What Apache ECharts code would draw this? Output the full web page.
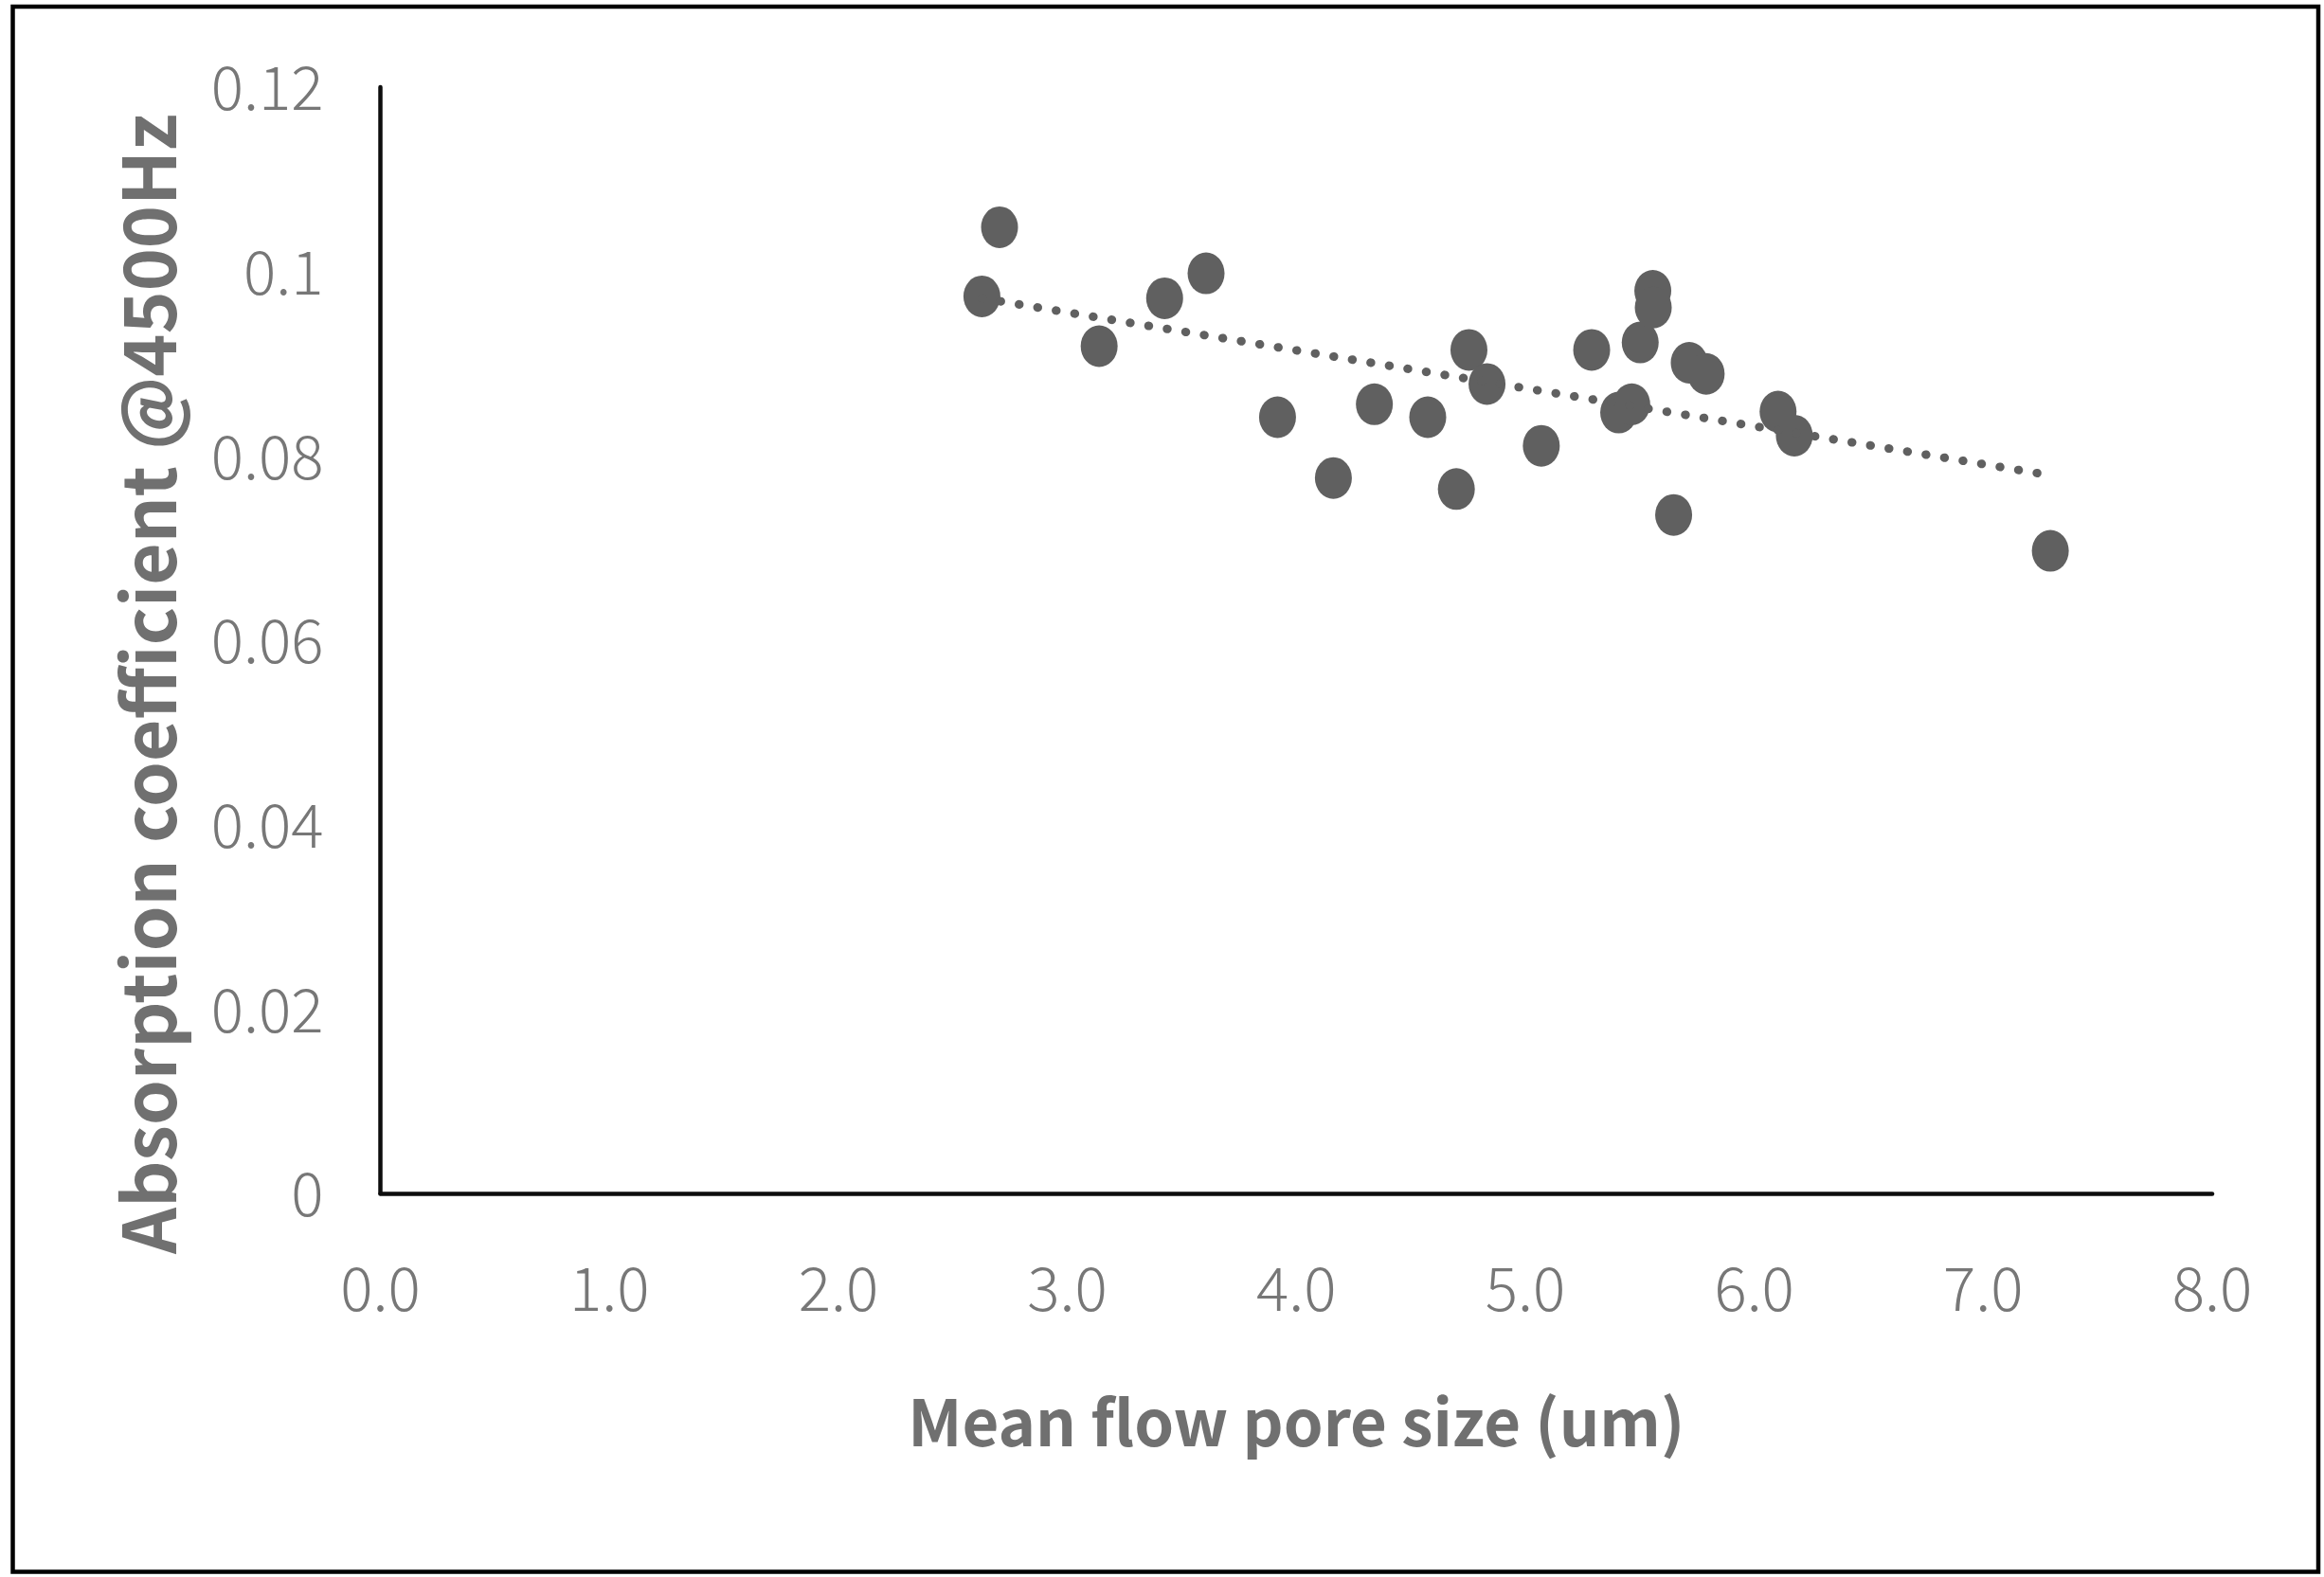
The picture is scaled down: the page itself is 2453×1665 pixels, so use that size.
<!DOCTYPE html>
<html>
<head>
<meta charset="utf-8">
<script src="https://cdn.jsdelivr.net/npm/echarts@6/dist/echarts.min.js"></script>
<style>
  html, body { margin: 0; padding: 0; background: #ffffff; }
  #chart { width: 2453px; height: 1665px; }
</style>
</head>
<body>
<div id="chart"></div>
<script>
// Mean flow pore size (um)
const poreSize = [2.704, 2.627, 3.425, 3.606, 3.139, 3.918, 4.162, 4.341, 4.574, 4.699,
                  4.754, 4.833, 5.070, 5.290, 5.408, 5.465, 5.502, 5.557, 5.559, 5.648,
                  5.716, 5.790, 6.104, 6.175, 7.293];
// Absorption coefficient @4500Hz
const absorption = [0.1048, 0.0973, 0.0971, 0.0998, 0.0919, 0.0842, 0.0776, 0.0856, 0.0842, 0.0764,
                    0.0915, 0.0878, 0.0811, 0.0915, 0.0847, 0.0856, 0.0923, 0.0979, 0.0961, 0.0736,
                    0.0901, 0.0889, 0.0848, 0.0822, 0.0697];
// Linear trendline end points
const trendX = [2.627, 7.293];
const trendY = [0.0971, 0.0779];

const xTicks = { min: 0, max: 8, interval: 1 };
const yTicks = { min: 0, max: 0.12, interval: 0.02 };

const xTitle = 'Mean flow pore size (um)';
const yTitle = 'Absorption coefficient @4500Hz';

const scatterData = poreSize.map((x, i) => [x, absorption[i]]);
const trendData = trendX.map((x, i) => [x, trendY[i]]);

const markColor = '#606060';
const tickColor = '#777777';
const titleColor = '#707070';
const tickFont = "'Noto Sans CJK KR', 'Noto Sans', sans-serif";

const chart = echarts.init(document.getElementById('chart'), null, { renderer: 'canvas' });
chart.setOption({
  backgroundColor: '#ffffff',
  animation: false,
  graphic: [{
    type: 'rect',
    shape: { x: 13.5, y: 7, width: 2433.5, height: 1652.5 },
    style: { fill: 'none', stroke: '#000000', lineWidth: 4.5 },
    silent: true,
    z: -1
  }],
  grid: { left: 401.5, right: 118, top: 92, bottom: 405, containLabel: false },
  xAxis: {
    type: 'value',
    min: xTicks.min, max: xTicks.max, interval: xTicks.interval,
    axisLine: { show: true, onZero: false, lineStyle: { color: '#0d0d0d', width: 4.5 } },
    axisTick: { show: false },
    splitLine: { show: false },
    axisLabel: {
      margin: 68,
      color: tickColor,
      fontFamily: tickFont,
      fontWeight: 300,
      fontSize: 64,
      formatter: v => v.toFixed(1)
    },
    name: xTitle,
    nameLocation: 'middle',
    nameGap: 208,
    nameTextStyle: { color: titleColor, fontFamily: tickFont, fontWeight: 'bold', fontSize: 67 }
  },
  yAxis: {
    type: 'value',
    min: yTicks.min, max: yTicks.max, interval: yTicks.interval,
    axisLine: { show: true, onZero: false, lineStyle: { color: '#0d0d0d', width: 4.5 } },
    axisTick: { show: false },
    splitLine: { show: false },
    axisLabel: {
      margin: 60,
      color: tickColor,
      fontFamily: tickFont,
      fontWeight: 300,
      fontSize: 64,
      formatter: v => String(parseFloat(v.toFixed(2)))
    },
    name: yTitle,
    nameLocation: 'middle',
    nameGap: 206,
    nameTextStyle: { color: titleColor, fontFamily: tickFont, fontWeight: 'bold', fontSize: 76.5, padding: [0, 92, 0, 0] }
  },
  series: [
    {
      type: 'line',
      data: trendData,
      showSymbol: false,
      symbol: 'none',
      z: 3,
      lineStyle: { color: markColor, width: 9, type: [0.5, 19.3], cap: 'round' },
      silent: true
    },
    {
      type: 'scatter',
      data: scatterData,
      symbol: 'path://M50,0 A50,50 0 1,1 50,100 A50,50 0 1,1 50,0 Z',
      symbolSize: [39, 44],
      itemStyle: { color: markColor, opacity: 1 },
      z: 2
    }
  ]
});
</script>
</body>
</html>
